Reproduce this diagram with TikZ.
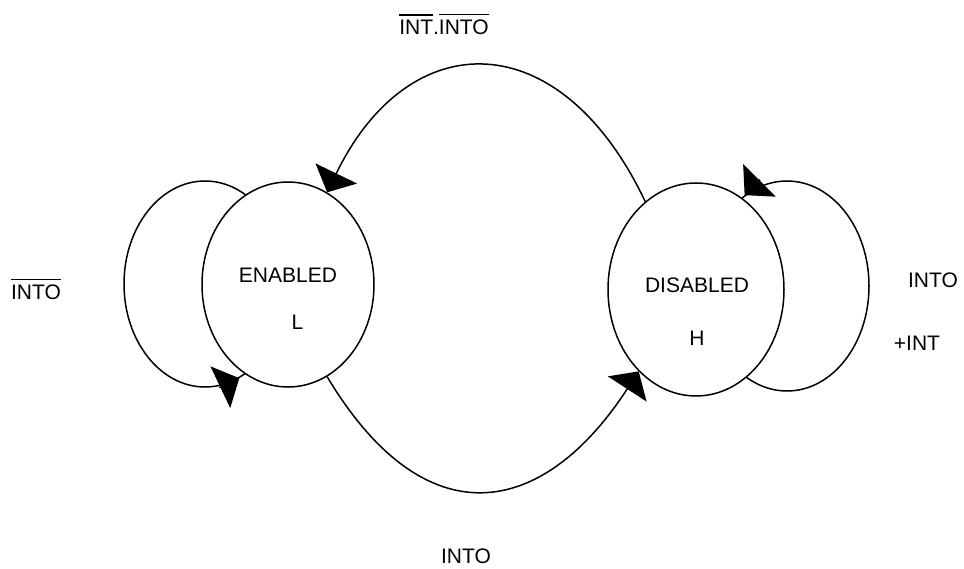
\documentclass[tikz,border=0pt]{standalone}
\usepackage{fontspec}
\setmainfont{Liberation Sans}
\usetikzlibrary{positioning,shapes,arrows.meta}
\tikzstyle{state} = [draw, ellipse, fill=white, line width=1.5pt, inner sep=0pt, minimum width=172pt, minimum height=205pt]
\tikzstyle{selfloop} = [draw, ellipse, line width=1.5pt, inner sep=0pt, minimum width=162pt, minimum height=206pt]
\tikzstyle{line} = [draw, line width=1.5pt, -{Triangle[length=21pt, width=46pt]}]
\tikzstyle{txt} = [font=\fontsize{21}{25}\selectfont, inner sep=0pt, anchor=base]
\newcommand{\lowsig}[1]{\vbox{\hrule height 1.4pt\kern 5pt\hbox{#1}}}

\begin{document}
\begin{tikzpicture}[x=1pt, y=-1pt]
    \useasboundingbox (0,0) rectangle (964,569);

    % Place nodes
    \node [selfloop] (enloop) at (205,284) {};
    \node [selfloop, minimum width=164pt, minimum height=210pt] (disloop) at (787,286) {};
    \node [state] (en) at (288,284.5) {};
    \node [state, minimum width=176pt, minimum height=213pt] (dis) at (696,289.5) {};
    \node [txt] (en-name) at ([yshift=1.5pt]en.center) {ENABLED};
    \node [txt] (en-level) at ([shift={(9.5,45.5)}]en.center) {L};
    \node [txt] (dis-name) at ([shift={(1,3.5)}]dis.center) {DISABLED};
    \node [txt] (dis-level) at ([shift={(1,55.5)}]dis.center) {H};

    % Conditions
    \node [txt] (cond-top) at (444,35) {\lowsig{INT}.\lowsig{INTO}};
    \node [txt] (cond-bottom) at (466,563) {INTO};
    \node [txt] (cond-left) at (36,300) {\lowsig{INTO}};
    \node [txt] (cond-right) at (933,288) {INTO};
    \node [txt] (cond-right2) at (917,350) {+INT};

    % Draw edges
    \path [line] (dis.120) .. controls +(-85,-179) and +(82,-169) .. (en.67);
    \path [line] (en.-67) .. controls +(97,162) and +(-97,149) .. (dis.-125);
    \path [line] ([shift={(-20,9.5)}]enloop.-70) -- (enloop.-70);
    \path [line] ([shift={(15.5,-15.5)}]disloop.115) -- (disloop.115);
\end{tikzpicture}
\end{document}
